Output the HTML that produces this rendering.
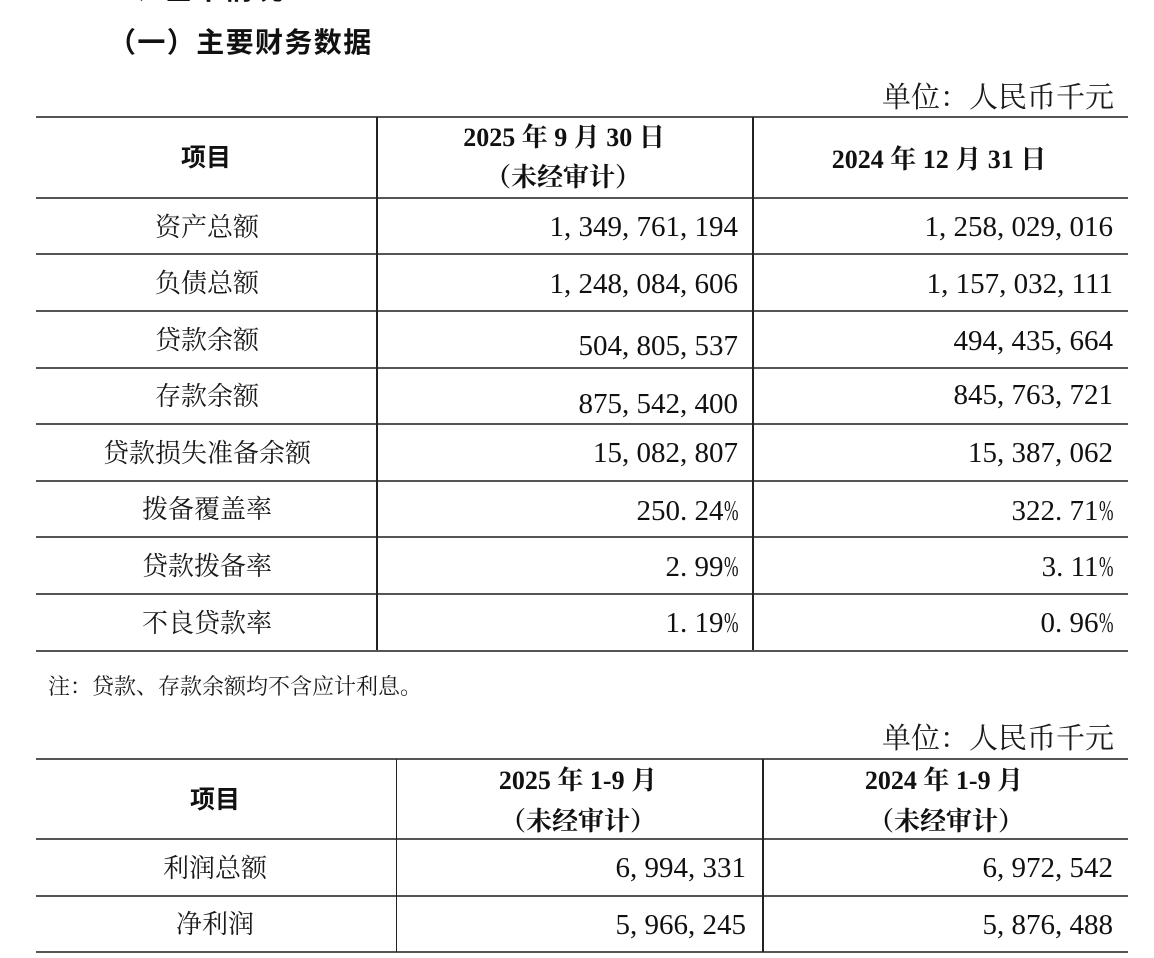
<!DOCTYPE html>
<html>
<head>
<meta charset="utf-8">
<style>
html,body{margin:0;padding:0;background:#fff}
body{width:1154px;height:958px;position:relative;overflow:hidden;color:#111}
.a{position:absolute;white-space:nowrap;line-height:1}
.h{position:absolute;height:2px;background:#555;left:36px;width:1092px}
.v{position:absolute;width:1.5px;background:#222}
.lab{font-family:"Noto Serif CJK SC","Liberation Serif",serif;font-size:26px;transform:translateX(-50%);color:#1a1a1a}
.hd{font-family:"Liberation Serif","Noto Serif CJK SC",serif;font-weight:bold;font-size:26px;transform:translateX(-50%)}
.xm{font-family:"Noto Sans CJK SC",sans-serif;font-weight:bold;font-size:25px;transform:translateX(-50%)}
.unit{font-family:"Noto Serif CJK SC",serif;font-size:29px;right:40px;color:#1a1a1a}
.n{font-family:"Liberation Serif",serif;font-size:29px;color:#111}
.n i{font-style:normal;display:inline-block;width:.5em;text-align:left}
.n em{font-style:normal;display:inline-block;width:.833em;transform:scaleX(.6);transform-origin:0 0;margin-right:-.333em}
</style>
</head>
<body>

<!-- clipped top heading -->
<div class="a" style="left:104px;top:-27px;font-family:'Noto Sans CJK SC',sans-serif;font-weight:bold;font-size:29px;letter-spacing:1px"><span style="position:relative;top:-4px">二</span>、基本情况</div>

<!-- section heading -->
<div class="a" style="left:108px;top:27px;font-family:'Noto Sans CJK SC',sans-serif;font-weight:bold;font-size:28px;letter-spacing:1.4px">（一）主要财务数据</div>

<!-- unit label 1 -->
<div class="a unit" style="top:81px">单位：人民币千元</div>

<!-- TABLE 1 lines -->
<div class="h" style="top:116px"></div>
<div class="h" style="top:196.7px"></div>
<div class="h" style="top:253px"></div>
<div class="h" style="top:310px"></div>
<div class="h" style="top:366.7px"></div>
<div class="h" style="top:423px"></div>
<div class="h" style="top:479.7px"></div>
<div class="h" style="top:536px"></div>
<div class="h" style="top:593px"></div>
<div class="h" style="top:649.7px"></div>
<div class="v" style="left:376px;top:117px;height:533px"></div>
<div class="v" style="left:752px;top:117px;height:533px"></div>

<!-- TABLE 1 header -->
<div class="a xm" style="left:206px;top:144px">项目</div>
<div class="a hd" style="left:564px;top:124.5px">2025 年 9 月 30 日</div>
<div class="a hd" style="left:563px;top:164.5px">（未经审计）</div>
<div class="a hd" style="left:939px;top:147px">2024 年 12 月 31 日</div>

<!-- TABLE 1 labels -->
<div class="a lab" style="left:207px;top:212.5px">资产总额</div>
<div class="a lab" style="left:207px;top:269px">负债总额</div>
<div class="a lab" style="left:207px;top:325.5px">贷款余额</div>
<div class="a lab" style="left:207px;top:382px">存款余额</div>
<div class="a lab" style="left:207px;top:438.5px">贷款损失准备余额</div>
<div class="a lab" style="left:207px;top:495px">拨备覆盖率</div>
<div class="a lab" style="left:207px;top:551.5px">贷款拨备率</div>
<div class="a lab" style="left:207px;top:608.5px">不良贷款率</div>

<!-- TABLE 1 col2 numbers -->
<div class="a n" style="right:416px;top:213px">1<i>,</i>349<i>,</i>761<i>,</i>194</div>
<div class="a n" style="right:416px;top:269.5px">1<i>,</i>248<i>,</i>084<i>,</i>606</div>
<div class="a n" style="right:416px;top:332.4px">504<i>,</i>805<i>,</i>537</div>
<div class="a n" style="right:416px;top:390px">875<i>,</i>542<i>,</i>400</div>
<div class="a n" style="right:416px;top:439.4px">15<i>,</i>082<i>,</i>807</div>
<div class="a n" style="right:416px;top:497px">250<i>.</i>24<em>%</em></div>
<div class="a n" style="right:416px;top:552.5px">2<i>.</i>99<em>%</em></div>
<div class="a n" style="right:416px;top:609.4px">1<i>.</i>19<em>%</em></div>

<!-- TABLE 1 col3 numbers -->
<div class="a n" style="right:41px;top:213px">1<i>,</i>258<i>,</i>029<i>,</i>016</div>
<div class="a n" style="right:41px;top:269.5px">1<i>,</i>157<i>,</i>032<i>,</i>111</div>
<div class="a n" style="right:41px;top:326.5px">494<i>,</i>435<i>,</i>664</div>
<div class="a n" style="right:41px;top:381px">845<i>,</i>763<i>,</i>721</div>
<div class="a n" style="right:41px;top:439.4px">15<i>,</i>387<i>,</i>062</div>
<div class="a n" style="right:41px;top:497px">322<i>.</i>71<em>%</em></div>
<div class="a n" style="right:41px;top:552.5px">3<i>.</i>11<em>%</em></div>
<div class="a n" style="right:41px;top:609.4px">0<i>.</i>96<em>%</em></div>

<!-- note -->
<div class="a" style="left:48px;top:675px;font-family:'Noto Serif CJK SC',serif;font-size:22px;color:#1a1a1a">注：贷款、存款余额均不含应计利息。</div>

<!-- unit label 2 -->
<div class="a unit" style="top:721.5px">单位：人民币千元</div>

<!-- TABLE 2 lines -->
<div class="h" style="top:758.3px"></div>
<div class="h" style="top:838px"></div>
<div class="h" style="top:894.7px"></div>
<div class="h" style="top:951.3px"></div>
<div class="v" style="left:395.5px;top:759px;height:193px"></div>
<div class="v" style="left:762px;top:759px;height:193px"></div>

<!-- TABLE 2 header -->
<div class="a xm" style="left:215px;top:785.5px">项目</div>
<div class="a hd" style="left:578px;top:768px">2025 年 1-9 月</div>
<div class="a hd" style="left:578px;top:809px">（未经审计）</div>
<div class="a hd" style="left:944px;top:768px">2024 年 1-9 月</div>
<div class="a hd" style="left:946px;top:809px">（未经审计）</div>

<!-- TABLE 2 rows -->
<div class="a lab" style="left:215px;top:853.5px">利润总额</div>
<div class="a lab" style="left:215px;top:910px">净利润</div>

<div class="a n" style="right:408px;top:854.3px">6<i>,</i>994<i>,</i>331</div>
<div class="a n" style="right:408px;top:911px">5<i>,</i>966<i>,</i>245</div>
<div class="a n" style="right:41px;top:854.3px">6<i>,</i>972<i>,</i>542</div>
<div class="a n" style="right:41px;top:911px">5<i>,</i>876<i>,</i>488</div>

</body>
</html>
